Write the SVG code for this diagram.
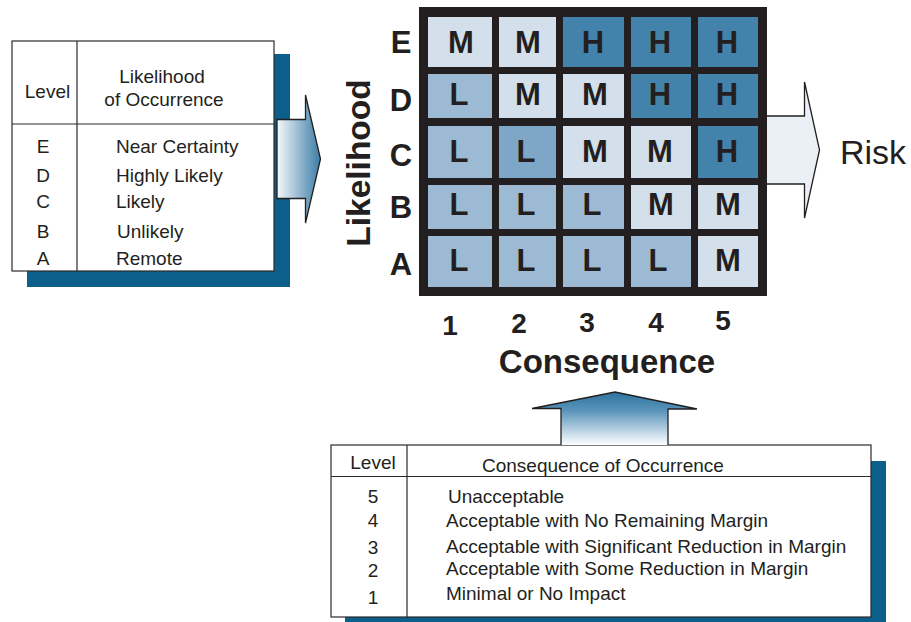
<svg xmlns="http://www.w3.org/2000/svg" width="911" height="622" viewBox="0 0 911 622">
<defs>
<linearGradient id="gLeft" x1="0" y1="0" x2="1" y2="0">
<stop offset="0" stop-color="#f6f9fb"/>
<stop offset="1" stop-color="#3b7ca6"/>
</linearGradient>
<linearGradient id="gUp" x1="0" y1="0" x2="0" y2="1">
<stop offset="0" stop-color="#2c739e"/>
<stop offset="0.35" stop-color="#5a94ba"/>
<stop offset="1" stop-color="#ffffff"/>
</linearGradient>
<style>
.shadow{fill:#0b5f8a}
.tbl{fill:#fff;stroke:#2b2b2b;stroke-width:1.2}
.ln{stroke:#2b2b2b;stroke-width:1.2;fill:none}
.t{font-family:"Liberation Sans",Arial,sans-serif;font-size:19px;fill:#231f20}
.c{text-anchor:middle}
.b{font-family:"Liberation Sans",Arial,sans-serif;font-weight:bold;fill:#231f20}
.cell{font-family:"Liberation Sans",Arial,sans-serif;font-weight:bold;font-size:31px;fill:#231f20;text-anchor:middle}
.M{fill:#d3e0eb}
.L{fill:#9cbad3}
.L2{fill:#7ea7c7}
.H{fill:#4382ab}
.arr{stroke:#231f20;stroke-width:1.3;stroke-linejoin:miter}
</style>
</defs>

<g id="likelihood-table">
<rect class="shadow" x="27" y="54" width="263" height="233"/>
<rect class="tbl" x="12" y="41" width="262" height="230"/>
<line class="ln" x1="77" y1="41" x2="77" y2="271"/>
<line class="ln" x1="12" y1="124" x2="274" y2="124"/>
<text class="t c" x="47.5" y="98">Level</text>
<text class="t c" x="162" y="83">Likelihood</text>
<text class="t c" x="164" y="106">of Occurrence</text>
<text class="t c" x="43" y="153">E</text>
<text class="t c" x="43" y="182">D</text>
<text class="t c" x="43" y="208">C</text>
<text class="t c" x="43" y="238">B</text>
<text class="t c" x="43" y="265">A</text>
<text class="t" x="116" y="153">Near Certainty</text>
<text class="t" x="116" y="182">Highly Likely</text>
<text class="t" x="116" y="208">Likely</text>
<text class="t" x="117" y="238">Unlikely</text>
<text class="t" x="116" y="265">Remote</text>
</g>

<g id="consequence-table">
<rect class="shadow" x="345" y="461" width="541" height="161"/>
<rect class="tbl" x="331" y="445" width="540" height="172"/>
<line class="ln" x1="407" y1="445" x2="407" y2="617"/>
<line class="ln" x1="331" y1="476.5" x2="871" y2="476.5"/>
<text class="t c" x="373" y="469">Level</text>
<text class="t" x="482" y="471.5">Consequence of Occurrence</text>
<text class="t c" x="373" y="503">5</text>
<text class="t c" x="373" y="527">4</text>
<text class="t c" x="373" y="554">3</text>
<text class="t c" x="373" y="577">2</text>
<text class="t c" x="373" y="604">1</text>
<text class="t" x="448" y="503">Unacceptable</text>
<text class="t" x="446" y="527">Acceptable with No Remaining Margin</text>
<text class="t" x="446" y="553">Acceptable with Significant Reduction in Margin</text>
<text class="t" x="446" y="575">Acceptable with Some Reduction in Margin</text>
<text class="t" x="446" y="600">Minimal or No Impact</text>
</g>

<g id="connectors">
<path class="arr" fill="url(#gLeft)" d="M277,119.5 H305.5 V95 L320.5,159 L305.5,223 V198.5 H277 Z"/>
<path class="arr" fill="#eaf0f5" d="M760,116 H804.5 V82 L819.5,150 L804.5,218 V184 H760 Z"/>
<path class="arr" fill="url(#gUp)" stroke-width="1.8" d="M561,445 V408.5 H532 L615,392 L697,409 H668 V445"/>
</g>

<g id="risk-matrix">
<rect x="419" y="7" width="348" height="289" fill="#231f20"/>
<rect class="M" x="428" y="17" width="64" height="50"/>
<rect class="M" x="499" y="17" width="57" height="50"/>
<rect class="H" x="563" y="17" width="61" height="50"/>
<rect class="H" x="631" y="17" width="60" height="50"/>
<rect class="H" x="698" y="17" width="60" height="50"/>
<rect class="L" x="428" y="74" width="64" height="44"/>
<rect class="M" x="499" y="74" width="57" height="44"/>
<rect class="M" x="563" y="74" width="61" height="44"/>
<rect class="H" x="631" y="74" width="60" height="44"/>
<rect class="H" x="698" y="74" width="60" height="44"/>
<rect class="L" x="428" y="126" width="64" height="52"/>
<rect class="L2" x="499" y="126" width="57" height="52"/>
<rect class="M" x="563" y="126" width="61" height="52"/>
<rect class="M" x="631" y="126" width="60" height="52"/>
<rect class="H" x="698" y="126" width="60" height="52"/>
<rect class="L" x="428" y="185" width="64" height="44"/>
<rect class="L" x="499" y="185" width="57" height="44"/>
<rect class="L" x="563" y="185" width="61" height="44"/>
<rect class="M" x="631" y="185" width="60" height="44"/>
<rect class="M" x="698" y="185" width="60" height="44"/>
<rect class="L" x="428" y="236" width="64" height="51"/>
<rect class="L" x="499" y="236" width="57" height="51"/>
<rect class="L" x="563" y="236" width="61" height="51"/>
<rect class="L" x="631" y="236" width="60" height="51"/>
<rect class="M" x="698" y="236" width="60" height="51"/>
<text class="cell" x="461" y="53">M</text>
<text class="cell" x="528" y="53">M</text>
<text class="cell" x="593" y="53">H</text>
<text class="cell" x="660" y="53">H</text>
<text class="cell" x="727" y="53">H</text>
<text class="cell" x="459" y="105">L</text>
<text class="cell" x="528" y="105">M</text>
<text class="cell" x="595" y="105">M</text>
<text class="cell" x="660" y="105">H</text>
<text class="cell" x="727" y="105">H</text>
<text class="cell" x="459" y="162">L</text>
<text class="cell" x="526" y="162">L</text>
<text class="cell" x="595" y="162">M</text>
<text class="cell" x="660" y="162">M</text>
<text class="cell" x="727" y="162">H</text>
<text class="cell" x="459" y="215">L</text>
<text class="cell" x="526" y="215">L</text>
<text class="cell" x="592" y="215">L</text>
<text class="cell" x="661" y="215">M</text>
<text class="cell" x="728" y="215">M</text>
<text class="cell" x="459" y="271">L</text>
<text class="cell" x="526" y="271">L</text>
<text class="cell" x="592" y="271">L</text>
<text class="cell" x="658" y="271">L</text>
<text class="cell" x="728" y="271">M</text>
</g>

<g id="axis-labels">
<text class="b" font-size="31" text-anchor="middle" x="401" y="53">E</text>
<text class="b" font-size="31" text-anchor="middle" x="401" y="111">D</text>
<text class="b" font-size="31" text-anchor="middle" x="401" y="166">C</text>
<text class="b" font-size="31" text-anchor="middle" x="401" y="218">B</text>
<text class="b" font-size="31" text-anchor="middle" x="401" y="275">A</text>
<text class="b" font-size="33.5" text-anchor="middle" transform="translate(370,163) rotate(-90)">Likelihood</text>
<text class="b" font-size="28" text-anchor="middle" x="450" y="335">1</text>
<text class="b" font-size="28" text-anchor="middle" x="519" y="333">2</text>
<text class="b" font-size="28" text-anchor="middle" x="587" y="332">3</text>
<text class="b" font-size="28" text-anchor="middle" x="656" y="331.5">4</text>
<text class="b" font-size="28" text-anchor="middle" x="723" y="330">5</text>
<text class="b" font-size="33" text-anchor="middle" x="607" y="373">Consequence</text>
</g>

<g id="risk-label">
<text x="840" y="164" font-family="'Liberation Sans',Arial,sans-serif" font-size="34" fill="#231f20">Risk</text>
</g>
</svg>
